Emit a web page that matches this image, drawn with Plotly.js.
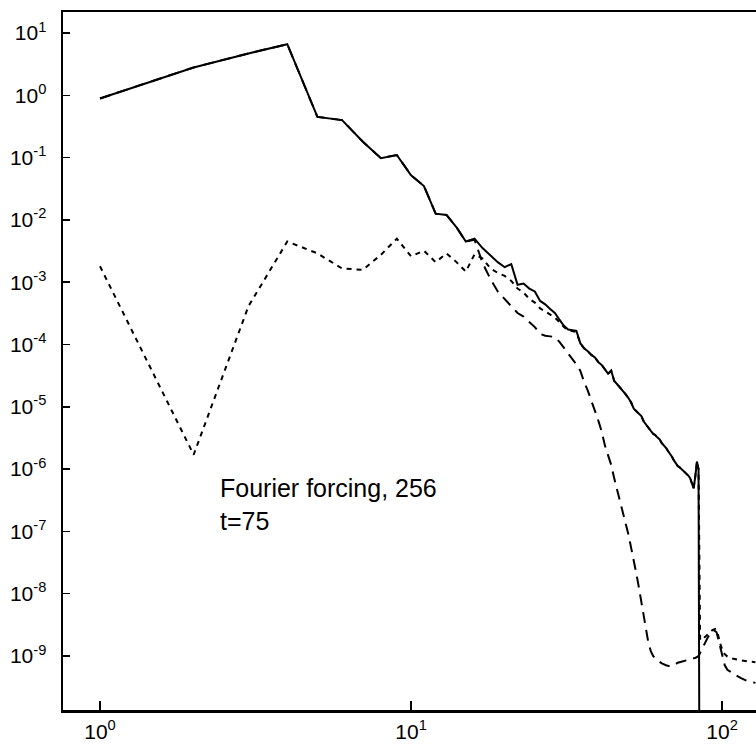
<!DOCTYPE html>
<html>
<head>
<meta charset="utf-8">
<script src="https://cdn.plot.ly/plotly-3.0.1.min.js"></script>
<style>
  html, body { margin: 0; padding: 0; background: #fff; overflow: hidden; }
  #chart { width: 756px; height: 744px; }
</style>
</head>
<body>
<div id="chart"></div>
<script>
// wavenumbers for the solid curve (total spectrum)
const kSolid = [1,2,3,4,5,6,7,8,9,10,11,12,13,14,15,16,17,18,19,20,
  21,22,23,24,25,26,27,28,29,30,31,32,33,34,35,36,37,38,39,40,
  41,42,43,44,45,46,47,48,49,50,51,52,53,54,55,56,57,58,59,60,
  61,62,63,64,65,66,67,68,69,70,71,72,73,74,75,76,77,78,79,80,
  81,82,83,84,85];
const eSolid = [0.89,2.8,4.7,6.6,0.45,0.40,0.18,0.098,0.11,0.052,
  0.035,0.0126,0.012,7.6e-3,4.5e-3,5.0e-3,3.5e-3,2.7e-3,2.1e-3,1.74e-3,
  1.95e-3,9.1e-4,9.5e-4,7.9e-4,7.1e-4,5.0e-4,4.4e-4,3.7e-4,3.2e-4,2.5e-4,
  2.0e-4,1.74e-4,1.7e-4,1.66e-4,1.05e-4,8.7e-5,7.8e-5,6.8e-5,6.2e-5,5.2e-5,
  4.7e-5,3.9e-5,3.4e-5,3.8e-5,2.6e-5,2.3e-5,2.04e-5,1.82e-5,1.58e-5,1.38e-5,
  1.17e-5,9.3e-6,8.5e-6,7.8e-6,7.1e-6,5.8e-6,5.1e-6,4.6e-6,4.1e-6,3.7e-6,
  3.5e-6,3.2e-6,3.0e-6,2.6e-6,2.4e-6,2.2e-6,1.95e-6,1.78e-6,1.58e-6,1.38e-6,
  1.23e-6,1.12e-6,1.07e-6,1.0e-6,9.5e-7,8.9e-7,8.5e-7,7.8e-7,7.1e-7,6.0e-7,
  4.9e-7,7.6e-7,1.32e-6,1.0e-6,1e-15];

// long-dashed curve
const kDashed = [1,2,3,4,5,6,7,8,9,10,11,12,13,14,15,16,17,18,19,20,
  21,22,23,24,25,26,27,28,29,30,31,32,33,34,35,36,37,38,39,40,
  41,42,43,44,45,46,47,48,49,50,51,52,53,54,55,56,57,58,59,60,
  62,64,66,68,70,72,74,76,78,80,82,84,86,88,90,92,94,96,98,100,
  102,104,107,110,115,120,125,128];
const eDashed = [0.89,2.8,4.7,6.6,0.45,0.40,0.18,0.098,0.11,0.052,
  0.035,0.0126,0.012,7.6e-3,4.5e-3,4.8e-3,2.0e-3,1.12e-3,7.1e-4,5.4e-4,
  4.2e-4,3.2e-4,2.8e-4,2.3e-4,1.9e-4,1.48e-4,1.38e-4,1.35e-4,1.32e-4,1.1e-4,
  8.9e-5,7.4e-5,6.0e-5,4.8e-5,3.8e-5,2.5e-5,1.82e-5,1.26e-5,8.3e-6,6.0e-6,
  4.0e-6,2.4e-6,1.66e-6,1.17e-6,7.1e-7,4.5e-7,2.8e-7,1.9e-7,1.32e-7,8.9e-8,
  5.6e-8,3.3e-8,2.1e-8,1.26e-8,7.1e-9,4.0e-9,2.4e-9,1.58e-9,1.2e-9,1.0e-9,
  8.5e-10,7.6e-10,7.1e-10,6.8e-10,7.1e-10,7.8e-10,8.1e-10,8.3e-10,8.7e-10,9.1e-10,
  9.3e-10,1.0e-9,1.26e-9,1.58e-9,2.0e-9,2.3e-9,2.6e-9,2.4e-9,1.58e-9,1.0e-9,
  7.1e-10,6.0e-10,5.4e-10,5.0e-10,4.4e-10,4.0e-10,3.8e-10,3.7e-10];

// short-dashed (dotted) curve
const kDotted = [1,2,3,4,5,6,7,8,9,10,11,12,13,14,15,16,17,18,19,20,
  21,22,23,24,25,26,27,28,29,30,31,32,33,34,35,36,37,38,39,40,
  41,42,43,44,45,46,47,48,49,50,51,52,53,54,55,56,57,58,59,60,
  61,62,63,64,65,66,67,68,69,70,71,72,73,74,75,76,77,78,79,80,
  81,82,83,84,85,87,89,91,93,95,97,99,101,104,108,115,120,128];
const eDotted = [1.8e-3,1.7e-6,4.1e-4,4.5e-3,2.9e-3,1.66e-3,1.58e-3,2.75e-3,5.0e-3,2.6e-3,
  3.2e-3,2.1e-3,2.9e-3,2.1e-3,1.48e-3,2.8e-3,2.4e-3,1.66e-3,1.41e-3,1.26e-3,
  1.05e-3,7.9e-4,6.8e-4,5.4e-4,4.7e-4,3.8e-4,3.4e-4,3.0e-4,2.7e-4,2.3e-4,
  1.9e-4,1.7e-4,1.66e-4,1.58e-4,1.05e-4,8.7e-5,7.8e-5,6.8e-5,6.2e-5,5.2e-5,
  4.7e-5,3.9e-5,3.4e-5,3.8e-5,2.6e-5,2.3e-5,2.04e-5,1.82e-5,1.58e-5,1.38e-5,
  1.17e-5,9.3e-6,8.5e-6,7.8e-6,7.1e-6,5.8e-6,5.1e-6,4.6e-6,4.1e-6,3.7e-6,
  3.5e-6,3.2e-6,3.0e-6,2.6e-6,2.4e-6,2.2e-6,1.95e-6,1.78e-6,1.58e-6,1.38e-6,
  1.23e-6,1.12e-6,1.07e-6,1.0e-6,9.5e-7,8.9e-7,8.5e-7,7.8e-7,7.1e-7,6.0e-7,
  4.9e-7,7.6e-7,1.32e-6,1.0e-6,1.8e-9,1.9e-9,2.1e-9,2.3e-9,2.6e-9,2.7e-9,
  2.2e-9,1.48e-9,1.12e-9,9.8e-10,9.1e-10,8.5e-10,8.3e-10,7.9e-10];

const xTickVals = [1, 10, 100];
const xTickText = ['10<sup>0</sup>', '10<sup>1</sup>', '10<sup>2</sup>'];
const yTickVals = [1e1,1e0,1e-1,1e-2,1e-3,1e-4,1e-5,1e-6,1e-7,1e-8,1e-9];
const yTickText = ['10<sup>1</sup>','10<sup>0</sup>','10<sup>-1</sup>','10<sup>-2</sup>','10<sup>-3</sup>',
  '10<sup>-4</sup>','10<sup>-5</sup>','10<sup>-6</sup>','10<sup>-7</sup>','10<sup>-8</sup>','10<sup>-9</sup>'];
const labelText = 'Fourier forcing, 256<br>t=75';

const traces = [
  { x: kDotted, y: eDotted, mode: 'lines', line: { color: '#000', width: 2, dash: '5px,5px' }, hoverinfo: 'skip' },
  { x: kDashed, y: eDashed, mode: 'lines', line: { color: '#000', width: 2, dash: '11px,7px' }, hoverinfo: 'skip' },
  { x: kSolid, y: eSolid, mode: 'lines', line: { color: '#000', width: 2 }, hoverinfo: 'skip' }
];

const font = { family: '"Liberation Sans", Arial, Helvetica, sans-serif', color: '#000' };

const layout = {
  width: 756, height: 744,
  margin: { l: 63, r: 0, t: 12, b: 34 },
  paper_bgcolor: '#fff', plot_bgcolor: '#fff',
  showlegend: false,
  font: Object.assign({ size: 21 }, font),
  xaxis: {
    type: 'log', range: [-0.119, 2.109],
    tickvals: xTickVals, ticktext: xTickText,
    ticks: 'inside', ticklen: 9, tickwidth: 1.5, tickcolor: '#000',
    showline: true, linewidth: 2.5, linecolor: '#000', mirror: true,
    showgrid: false, zeroline: false,
    tickfont: Object.assign({ size: 21 }, font),
    ticklabelstandoff: 1
  },
  yaxis: {
    type: 'log', range: [-9.867, 1.337],
    tickvals: yTickVals, ticktext: yTickText,
    ticks: 'inside', ticklen: 7, tickwidth: 1.5, tickcolor: '#000',
    showline: true, linewidth: 2.5, linecolor: '#000', mirror: false,
    showgrid: false, zeroline: false,
    tickfont: Object.assign({ size: 21 }, font),
    ticklabelstandoff: 10
  },
  annotations: [{
    xref: 'paper', yref: 'paper', x: 0.2237, y: 0.2937,
    xanchor: 'left', yanchor: 'middle', align: 'left',
    text: labelText, showarrow: false,
    font: Object.assign({ size: 25 }, font)
  }]
};

Plotly.newPlot('chart', traces, layout, { staticPlot: true, displayModeBar: false });
</script>
</body>
</html>
